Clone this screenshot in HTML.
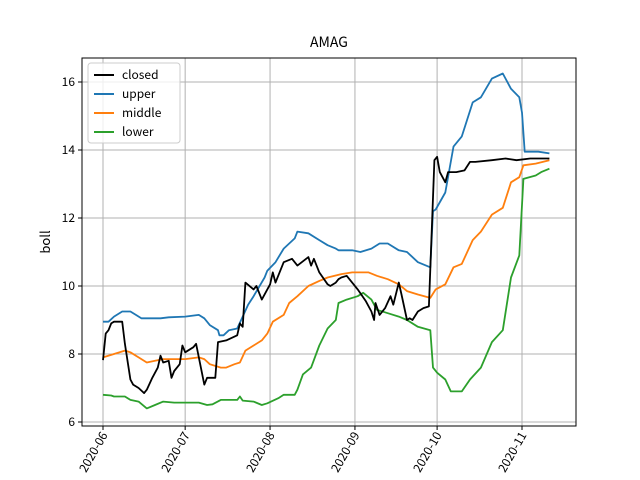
<!DOCTYPE html>
<html><head><meta charset="utf-8"><style>
body{margin:0;background:#fff}
svg{display:block;font-family:"WenQuanYi Zen Hei","Noto Sans CJK SC","Liberation Sans",sans-serif}
</style></head><body>
<svg id="chart" width="640" height="480" viewBox="0 0 640 480">
<rect width="640" height="480" fill="#fff"/>
<g id="grid"></g>
<g id="series"></g>
<rect x="82" y="58" width="494" height="368" fill="none" stroke="#000" stroke-width="1"/>
<g id="axes"></g>
<text x="329" y="47" text-anchor="middle" font-size="14">AMAG</text>
<text transform="translate(50,242) rotate(-90)" text-anchor="middle" font-size="13">boll</text>
<g>
<rect x="88" y="63" width="92" height="80" rx="3" fill="#fff" fill-opacity="0.8" stroke="#ccc"/>
<g><line x1="94" y1="75" x2="114" y2="75" stroke="#000" stroke-width="2"/><text x="122" y="79" font-size="12">closed</text></g>
<g><line x1="94" y1="94" x2="114" y2="94" stroke="#1f77b4" stroke-width="2"/><text x="122" y="98" font-size="12">upper</text></g>
<g><line x1="94" y1="113" x2="114" y2="113" stroke="#ff7f0e" stroke-width="2"/><text x="122" y="117" font-size="12">middle</text></g>
<g><line x1="94" y1="132" x2="114" y2="132" stroke="#2ca02c" stroke-width="2"/><text x="122" y="136" font-size="12">lower</text></g>
</g>
</svg>
<script>
// day offsets from 2020-06-01
const xTickDays=[0,30,61,92,122,153];
const xTickLabels=["2020-06","2020-07","2020-08","2020-09","2020-10","2020-11"];
const yTicks=[6,8,10,12,14,16];
const closedDays=[0,1,2,3,4,7,8,10,11,13,15,16,18,20,21,22,24,25,26,28,29,30,33,34,37,38,41,42,45,49,50,51,52,55,56,58,61,62,63,66,69,71,75,76,77,79,82,83,85,86,87,89,93,96,98,99,99.5,101,103,105,106,108,109,111,112,113,115,117,119,121,122,123,125,126,129,132,134,136,142,147,151,156,163];
const closedVals=[7.82,8.6,8.7,8.9,8.95,8.95,8.3,7.25,7.1,7.0,6.85,6.95,7.3,7.6,7.95,7.75,7.8,7.3,7.5,7.7,8.25,8.05,8.2,8.3,7.1,7.3,7.3,8.35,8.4,8.55,8.9,8.8,10.1,9.9,10.0,9.6,10.05,10.4,10.1,10.7,10.8,10.6,10.85,10.6,10.8,10.4,10.05,10.0,10.1,10.2,10.25,10.3,9.9,9.55,9.25,9.0,9.5,9.15,9.35,9.7,9.45,10.1,9.75,9.0,9.05,9.0,9.25,9.35,9.4,13.7,13.8,13.35,13.05,13.35,13.35,13.4,13.65,13.65,13.7,13.75,13.7,13.75,13.75];
const upperDays=[0,2,4,7,10,12,14,17,21,24,30,35,37,39,42,42.5,44,46,49,51,53,55,59,60,63,66,70,71,75,79,82,85,86,91,94,98,101,104,108,111,115,119.5,120.5,121.5,125,128,131,135,138,142,146,149,152,153,154,159,163];
const upperVals=[8.95,8.95,9.1,9.25,9.25,9.15,9.05,9.05,9.05,9.08,9.1,9.15,9.05,8.85,8.7,8.55,8.55,8.7,8.75,9.1,9.45,9.7,10.25,10.45,10.7,11.1,11.4,11.6,11.55,11.35,11.2,11.1,11.05,11.05,11.0,11.1,11.25,11.25,11.05,11.0,10.7,10.55,12.2,12.25,12.75,14.1,14.4,15.4,15.55,16.1,16.25,15.8,15.55,15.1,13.95,13.95,13.9];
const middleDays=[0,4,8,10,13,16,19,22,26,30,35,37,39,43,45,48,50,52,55,58,60,62,66,68,71,75,79,82,87,91,97,100,104,108,111,115,119.5,121.5,125,128,131,135,138,142,146,149,152,153.5,158,163];
const middleVals=[7.9,8.0,8.1,8.05,7.9,7.75,7.8,7.85,7.85,7.85,7.9,7.85,7.7,7.6,7.6,7.7,7.75,8.1,8.25,8.4,8.6,8.95,9.15,9.5,9.7,10.0,10.15,10.25,10.35,10.4,10.4,10.3,10.2,10.05,9.85,9.75,9.65,9.9,10.05,10.55,10.65,11.35,11.6,12.1,12.3,13.05,13.2,13.55,13.6,13.7];
const lowerDays=[0,3,4,8,10,13,16,19,22,26,30,35,38,40,43,49,50,51,55,58,60,64,66,70,71,73,76,79,82,85,86,89,93,95,98,100,104,108,111,115,119.5,120.5,122,125,127,131,134,138,142,146,149,152,153.5,158,160,163];
const lowerVals=[6.8,6.78,6.75,6.75,6.65,6.6,6.4,6.5,6.6,6.57,6.57,6.57,6.5,6.52,6.65,6.65,6.75,6.63,6.6,6.5,6.55,6.7,6.8,6.8,6.95,7.4,7.6,8.25,8.75,9.0,9.5,9.6,9.7,9.8,9.6,9.3,9.2,9.1,9.0,8.8,8.7,7.6,7.45,7.25,6.9,6.9,7.25,7.6,8.35,8.7,10.25,10.9,13.15,13.25,13.35,13.45];

const NS="http://www.w3.org/2000/svg";
function xS(d){return 103+d*(522-103)/153;}
function yS(v){return 422-(v-6)*34;}
const grid=document.getElementById('grid'),axes=document.getElementById('axes'),ser=document.getElementById('series');
function mk(tag,attrs,parent){const e=document.createElementNS(NS,tag);for(const k in attrs)e.setAttribute(k,attrs[k]);parent.appendChild(e);return e;}
xTickDays.forEach((d,i)=>{
  const x=xS(d);
  const g=mk('line',{x1:x,x2:x,y1:58,y2:426,stroke:'#b0b0b0','stroke-width':1},grid);
  
  
  const t=mk('line',{x1:x,x2:x,y1:426,y2:430,stroke:'#000'},axes);
  
  
  const tx=mk('text',{transform:`translate(${x+5},435) rotate(-60)`,'text-anchor':'end','font-size':12},axes);
  tx.textContent=xTickLabels[i];
  
  
});
yTicks.forEach(v=>{
  const y=yS(v);
  const g=mk('line',{x1:82,x2:576,y1:y,y2:y,stroke:'#b0b0b0','stroke-width':1},grid);
  
  
  const t=mk('line',{x1:78,x2:82,y1:y,y2:y,stroke:'#000'},axes);
  
  
  const tx=mk('text',{x:75,y:y+4,'text-anchor':'end','font-size':12},axes);
  tx.textContent=v;
  
  
});
function line(days,vals,color,name){
  const p=mk('polyline',{points:days.map((d,i)=>xS(d).toFixed(1)+','+yS(vals[i]).toFixed(1)).join(' '),fill:'none',stroke:color,'stroke-width':1.8,'stroke-linejoin':'round'},ser);
  
  
}
line(lowerDays,lowerVals,'#2ca02c','lower-line');
line(middleDays,middleVals,'#ff7f0e','middle-line');
line(upperDays,upperVals,'#1f77b4','upper-line');
line(closedDays,closedVals,'#000','closed-line');
</script>
</body></html>
